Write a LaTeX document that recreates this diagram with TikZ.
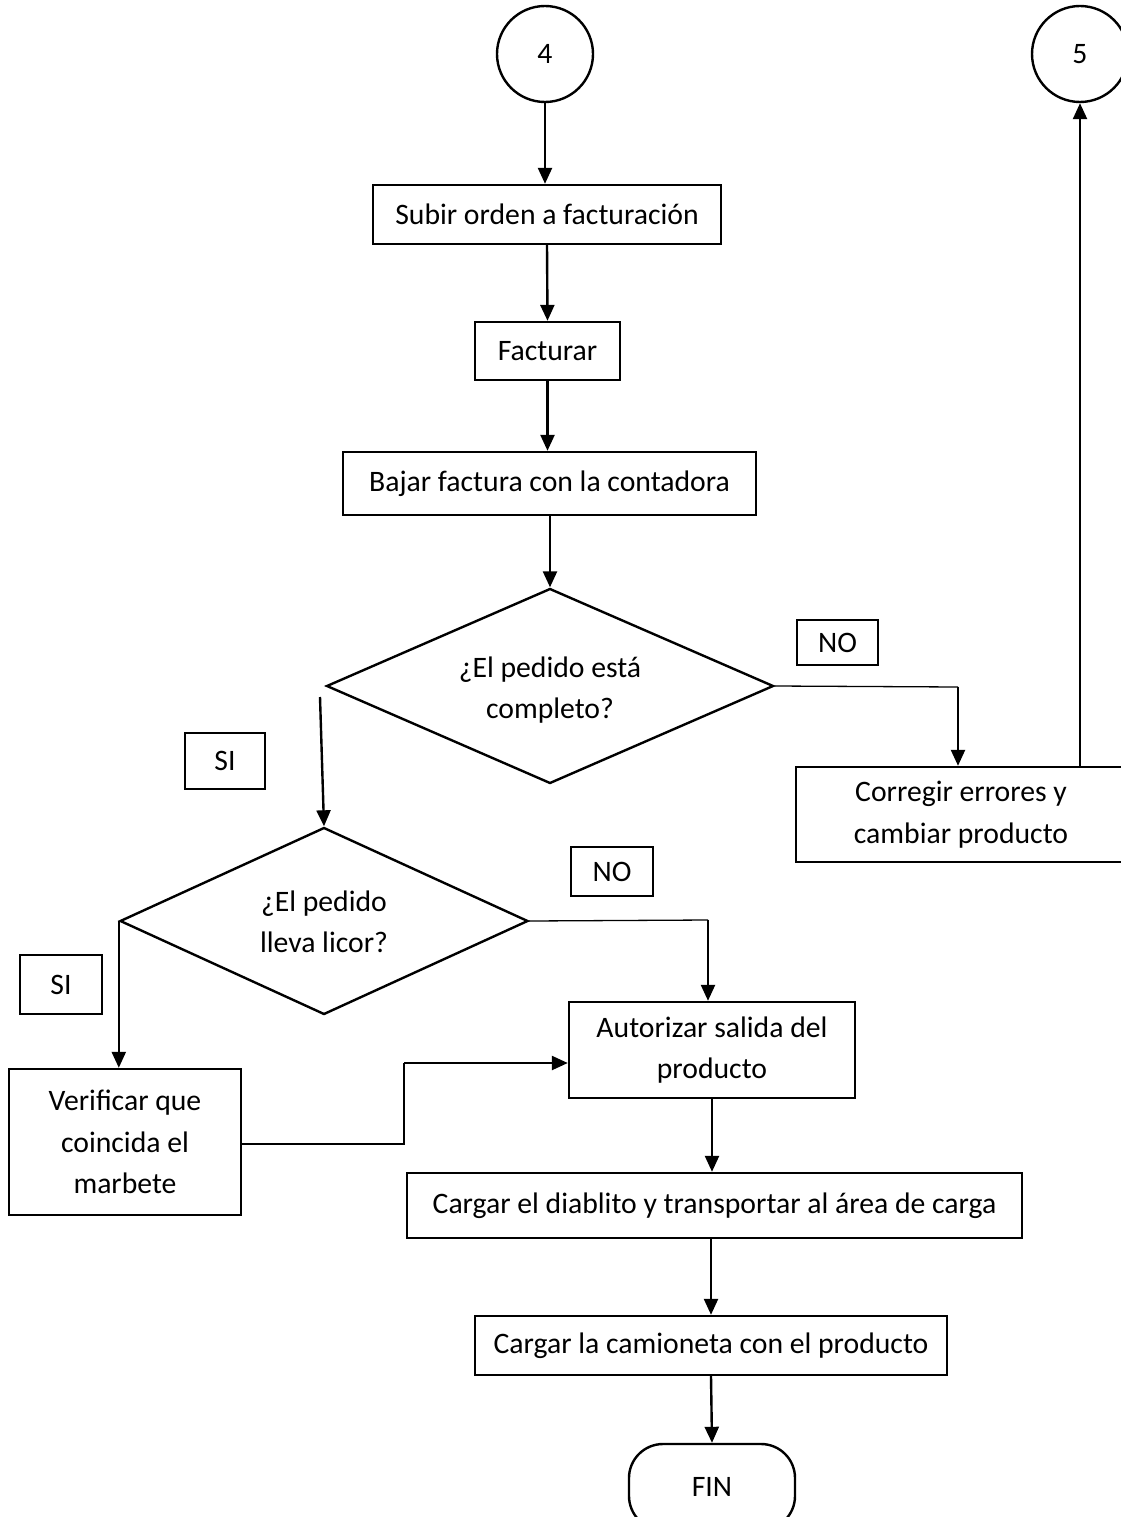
\documentclass[tikz,border=0pt]{standalone}
\usepackage{fontspec}
\setmainfont{Carlito}
\usetikzlibrary{shapes.geometric,arrows.meta}
\begin{document}
\begin{tikzpicture}[x=1pt,y=-1pt,
  every node/.style={font=\fontsize{29.7}{41.5}\selectfont, align=center, inner sep=0pt},
  box/.style={draw, rectangle, line width=2.4pt},
  lbl/.style={draw, rectangle, line width=2.4pt},
  circ/.style={draw, circle, line width=2.4pt, minimum size=96pt},
  dia/.style={draw, diamond, line width=2.4pt},
  term/.style={draw, rectangle, rounded corners=34pt, line width=2.4pt},
  arr/.style={line width=2.4pt, -{Triangle[length=16pt,width=14pt]}},
  thinln/.style={line width=1.3pt}
]
\useasboundingbox (0,0) rectangle (1121,1517);

% nodes
\node[circ] (c4) at (545,54) {4};
\node[circ] (c5) at (1080,54) {5};
\node[box, minimum width=348pt, minimum height=59pt] (subir) at (547,214.5) {Subir orden a facturación};
\node[box, minimum width=145pt, minimum height=58pt] (fact) at (547.5,351) {Facturar};
\node[box, minimum width=413pt, minimum height=63pt] (bajar) at (549.5,483.5) {Bajar factura con la contadora};
\node[dia, minimum width=447pt, minimum height=195pt] (d1) at (550,686) {};
\node (d1t) at (550,690) {¿El pedido está\\completo?};
\node[lbl, minimum width=81pt, minimum height=45pt] (no1) at (837.5,642.5) {NO};
\node[box, minimum width=330pt, minimum height=95pt] (corr) at (961,814.5) {Corregir errores y\\cambiar producto};
\node[lbl, minimum width=80pt, minimum height=56pt] (si1) at (225,761) {SI};
\node[dia, minimum width=408pt, minimum height=187pt] (d2) at (324,921) {};
\node (d2t) at (324,922) {¿El pedido\\lleva licor?};
\node[lbl, minimum width=82pt, minimum height=49pt] (no2) at (612,871.5) {NO};
\node[lbl, minimum width=82pt, minimum height=59pt] (si2) at (61,984.5) {SI};
\node[box, minimum width=286pt, minimum height=96pt] (aut) at (712,1050) {Autorizar salida del\\producto};
\node[box, minimum width=232pt, minimum height=146pt] (ver) at (125,1142) {Verificar que\\coincida el\\marbete};
\node[box, minimum width=615pt, minimum height=65pt] (carg1) at (714.5,1205.5) {Cargar el diablito y transportar al área de carga};
\node[box, minimum width=472pt, minimum height=59pt] (carg2) at (711,1345.5) {Cargar la camioneta con el producto};
\node[term, minimum width=166pt, minimum height=86pt] (fin) at (712,1487) {FIN};

% coordinates
\coordinate (k1) at (958,687);
\coordinate (s1) at (320,697);
\coordinate (k2) at (708,920);
\coordinate (m1) at (404,1144);
\coordinate (m2) at (404,1063);

% connectors
\draw[arr] (c4.south) -- (subir.north -| c4.south);
\draw[arr] (subir.south) -- (fact.north);
\draw[arr] (fact.south) -- (bajar.north -| fact.south);
\draw[arr] (bajar.south -| d1.north) -- (d1.north);
\draw[thinln] (d1.east) -- (k1);
\draw[arr] (k1) -- (k1 |- corr.north);
\draw[arr] (corr.north -| c5.south) -- (c5.south);
\draw[arr] (s1) -- (d2.north);
\draw[thinln] (d2.east) -- (k2);
\draw[arr] (k2) -- (k2 |- aut.north);
\draw[arr] (d2.west) -- (d2.west |- ver.north);
\draw[line width=2.4pt] (ver.east |- m1) -- (m1) -- (m2);
\draw[arr] (m2) -- (m2 -| aut.west);
\draw[arr] (aut.south) -- (aut.south |- carg1.north);
\draw[arr] (carg1.south -| carg2.north) -- (carg2.north);
\draw[arr] (carg2.south) -- (fin.north);
\end{tikzpicture}
\end{document}
